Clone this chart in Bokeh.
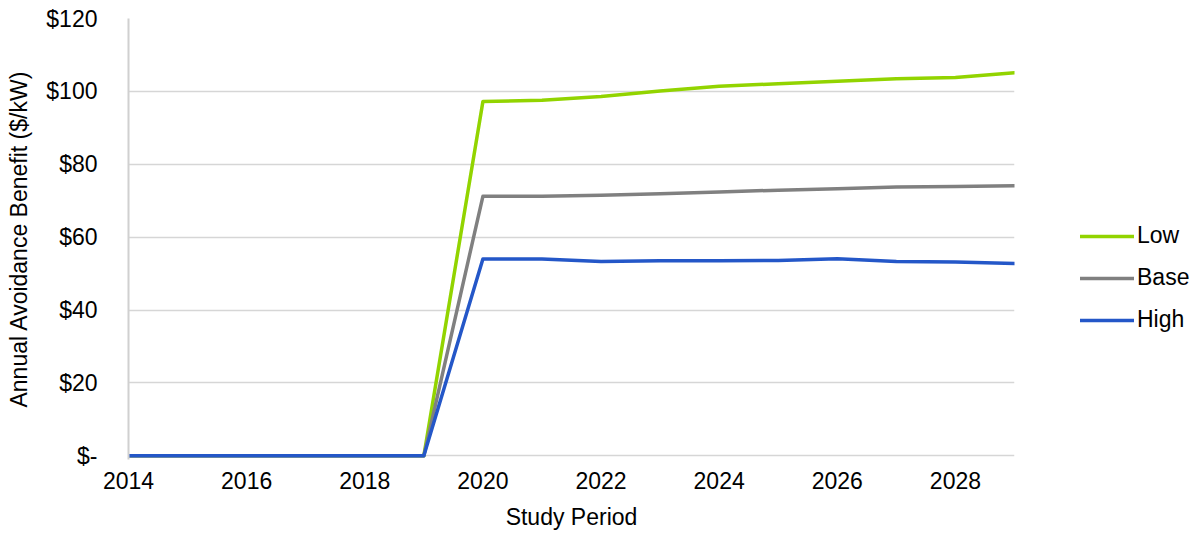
from bokeh.plotting import figure
from bokeh.models import Range1d, Legend, LegendItem, FixedTicker
from bokeh.embed import file_html
from bokeh.resources import INLINE

# Study period and annual avoidance benefit ($/kW) per scenario
years = [2014, 2015, 2016, 2017, 2018, 2019, 2020, 2021, 2022,
         2023, 2024, 2025, 2026, 2027, 2028, 2029]
low = [0, 0, 0, 0, 0, 0, 97.2, 97.6, 98.6, 100.1, 101.4, 102.1,
       102.8, 103.5, 103.8, 105.1]
base = [0, 0, 0, 0, 0, 0, 71.2, 71.2, 71.5, 71.9, 72.4, 72.9,
        73.3, 73.8, 73.9, 74.1]
high = [0, 0, 0, 0, 0, 0, 54.0, 54.0, 53.3, 53.5, 53.5, 53.6,
        54.1, 53.3, 53.2, 52.8]

x_ticks = [2014, 2016, 2018, 2020, 2022, 2024, 2026, 2028]
y_ticks = [0, 20, 40, 60, 80, 100, 120]
y_labels = ["$-", "$20", "$40", "$60", "$80", "$100", "$120"]

series_names = ["Low", "Base", "High"]
series_colors = ["#92d400", "#808080", "#2457c8"]

FONT = "Liberation Sans"
FS = "23px"

# a little room below zero so the flat lines at $0 are not cut by the frame
p = figure(frame_width=886, frame_height=441,
           x_range=Range1d(2014, 2029), y_range=Range1d(-1, 120),
           output_backend="svg", toolbar_location=None,
           min_border_left=128, min_border_right=0,
           min_border_top=18, min_border_bottom=74)
p.outline_line_color = None
p.background_fill_color = "white"

# axes
p.xaxis.ticker = FixedTicker(ticks=x_ticks)
p.yaxis.ticker = FixedTicker(ticks=y_ticks)
p.yaxis.major_label_overrides = {t: l for t, l in zip(y_ticks, y_labels)}
for ax in (p.xaxis[0], p.yaxis[0]):
    ax.major_tick_line_color = None
    ax.minor_tick_line_color = None
    ax.axis_line_color = "#d0d0d0"
    ax.axis_line_width = 2
    ax.major_label_text_font = FONT
    ax.major_label_text_font_size = FS
    ax.major_label_text_color = "black"
    ax.axis_label_text_font = FONT
    ax.axis_label_text_font_size = FS
    ax.axis_label_text_font_style = "normal"
    ax.axis_label_text_color = "black"

p.xaxis.axis_line_color = None
p.xaxis.axis_label = "Study Period"
p.xaxis.major_label_standoff = 6
p.xaxis.axis_label_standoff = 12
p.yaxis.axis_label = "Annual Avoidance Benefit ($/kW)"
p.yaxis.major_label_standoff = 25
p.yaxis.axis_label_standoff = 11

p.xgrid.grid_line_color = None
p.ygrid.grid_line_color = "#d6d6d6"
p.ygrid.grid_line_width = 1.5

items = []
for name, vals, col in zip(series_names, [low, base, high], series_colors):
    r = p.line(years, vals, line_color=col, line_width=3.5,
               line_join="round", line_cap="round")
    items.append(LegendItem(label=name, renderers=[r]))

legend = Legend(items=items, location=(66, 126),
                glyph_width=54, glyph_height=24, label_height=24,
                label_standoff=3, spacing=15, padding=0, margin=0,
                border_line_color=None, background_fill_alpha=0,
                label_text_font=FONT, label_text_font_size=FS,
                label_text_color="black")
p.add_layout(legend, "right")

open("out.html", "w").write(file_html(p, INLINE))
